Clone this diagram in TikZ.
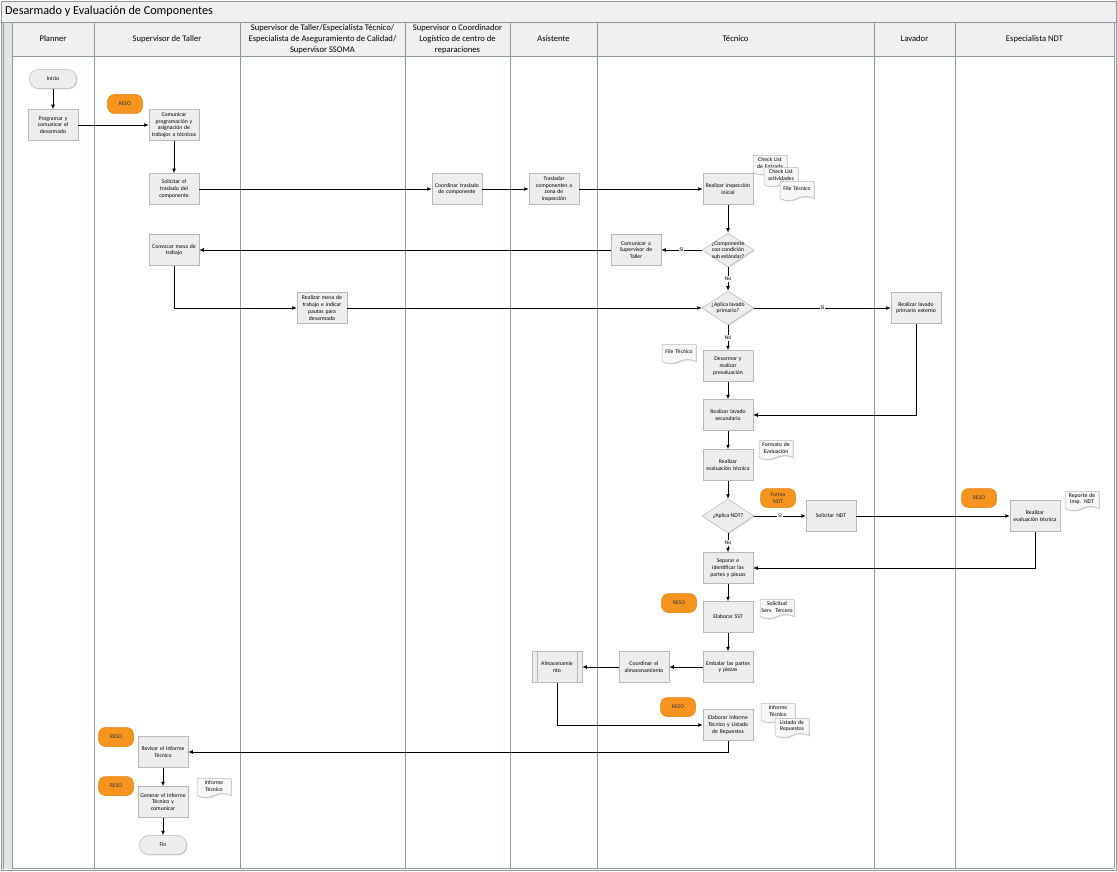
\documentclass[tikz,border=0pt]{standalone}
\usepackage{fontspec}
\setmainfont{Carlito}
\usetikzlibrary{arrows.meta,shapes.geometric,shapes.symbols,shadows}
\definecolor{lane}{HTML}{8E9A9E}
\definecolor{hdr}{HTML}{F0F0F0}
\definecolor{strip}{HTML}{E4E4E4}
\definecolor{boxfill}{HTML}{EDEDED}
\definecolor{boxline}{HTML}{B8B8B8}
\definecolor{reso}{HTML}{F7941D}
\definecolor{resoline}{HTML}{E3820F}
\definecolor{docfill}{HTML}{F7F7F7}
\newcommand\bxfont{\fontsize{5.7}{6.8}\selectfont}
\newcommand\hdfont{\fontsize{8.6}{10.8}\selectfont}
\begin{document}
\begin{tikzpicture}[x=1pt,y=-1pt,
  shad/.style={drop shadow={shadow xshift=0.9pt,shadow yshift=-0.9pt,opacity=0.35,fill=black!45}},
  box/.style={draw=boxline,fill=boxfill,line width=0.5pt,minimum width=50pt,minimum height=31pt,text width=49pt,align=center,inner sep=0.5pt,font=\bxfont,shad},
  subproc/.style={box,path picture={
     \draw[boxline,line width=0.5pt] ([xshift=5pt]path picture bounding box.north west) -- ([xshift=5pt]path picture bounding box.south west);
     \draw[boxline,line width=0.5pt] ([xshift=-5pt]path picture bounding box.north east) -- ([xshift=-5pt]path picture bounding box.south east);}},
  term/.style={draw=boxline,fill=boxfill,line width=0.5pt,rounded corners=9pt,minimum width=47pt,minimum height=19pt,font=\bxfont,shad},
  dec/.style={diamond,draw=boxline,fill=boxfill,line width=0.5pt,minimum width=52pt,minimum height=34pt,inner sep=0pt,shad},
  dectext/.style={font=\bxfont,align=center,inner sep=0pt},
  reso/.style={draw=resoline,fill=reso,line width=0.5pt,rounded corners=7pt,minimum width=35pt,minimum height=19pt,font=\bxfont,align=center,inner sep=1pt,text=black!80},
  doc/.style={tape,tape bend top=none,tape bend bottom=in and out,tape bend height=4pt,draw=boxline,fill=docfill,line width=0.5pt,minimum width=34pt,minimum height=19pt,text width=33pt,align=center,inner sep=0.5pt,font=\bxfont,shad},
  flow/.style={draw,line width=0.9pt,-{Latex[length=4.5pt,width=4pt]}},
  lbl/.style={fill=white,inner sep=1pt,font=\bxfont},
  hd/.style={font=\hdfont,align=center,inner sep=0pt},
  lanel/.style={draw=lane,line width=0.6pt}]
\useasboundingbox (0,0) rectangle (1117,872);
\fill[white] (0,0) rectangle (1117,872);
% frame
\fill[hdr] (1,1) rectangle (1116,22);
\fill[strip] (1,22) rectangle (12,869);
\fill[hdr] (12,22) rectangle (1114,56);
\draw[lane,line width=0.6pt] (1,1) rectangle (1116,870);
\draw[lanel] (1,22) -- (1116,22);
\draw[lanel] (12,56) -- (1114,56);
\draw[lanel] (12,868) -- (1114,868);
\draw[lanel] (3,22) -- (3,869);
\foreach \x in {12,94,240,405,510,597,874,955,1114} \draw[lanel] (\x,22) -- (\x,868);
\node[anchor=west,font=\fontsize{12.2}{14}\selectfont,inner sep=0pt] (title) at (5,11) {Desarmado y Evaluación de Componentes};
% headers
\node[hd] (h1) at (53,39) {Planner};
\node[hd] (h2) at (167,39) {Supervisor de Taller};
\node[hd] (h3) at (322.5,39) {Supervisor de Taller/Especialista Técnico/\\Especialista de Aseguramiento de Calidad/\\Supervisor SSOMA};
\node[hd] (h4) at (457.5,39) {Supervisor o Coordinador\\Logístico de centro de\\reparaciones};
\node[hd] (h5) at (553.5,39) {Asistente};
\node[hd] (h6) at (735.5,39) {Técnico};
\node[hd] (h7) at (914.5,39) {Lavador};
\node[hd] (h8) at (1034.5,39) {Especialista NDT};
% nodes
\node[term] (inicio) at (53,79) {Inicio};
\node[box] (prog) at (53,125) {Programar y\\comunicar el\\desarmado};
\node[reso] (r1) at (125,104) {RESO};
\node[box] (com) at (174,125) {Comunicar\\programación y\\asignación de\\trabajos a técnicos};
\node[box] (sol) at (174,189) {Solicitar el\\traslado del\\componente};
\node[box] (coord) at (457,189) {Coordinar traslado\\de componente};
\node[box] (trasl) at (554,189) {Trasladar\\componentes a\\zona de\\inspección};
\node[box] (insp) at (728,189) {Realizar inspección\\inicial};
\node[doc] (dc1) at (770,163) {Check List\\de Entrada};
\node[doc] (dc2) at (781,175) {Check List\\actividades};
\node[doc] (dc3) at (797,189) {File Técnico};
\node[dec,label={[dectext]center:¿Componente\\con condición\\sub estándar?}] (d1) at (728,250) {};
\node[box] (comsup) at (636,250) {Comunicar a\\Supervisor de\\Taller};
\node[box] (conv) at (174,250) {Convocar mesa de\\trabajo};
\node[dec,label={[dectext]center:¿Aplica lavado\\primario?}] (d2) at (728,308) {};
\node[box] (mesa) at (322,308) {Realizar mesa de\\trabajo e indicar\\pautas para\\desarmado};
\node[box] (lavp) at (916,308) {Realizar lavado\\primario externo};
\node[doc] (dc4) at (679,352) {File Técnico};
\node[box] (desar) at (728,366) {Desarmar y\\realizar\\prevaluación};
\node[box] (lavs) at (728,415) {Realizar lavado\\secundario};
\node[doc] (dc5) at (776,448) {Formato de\\Evaluación};
\node[box] (evalt) at (728,465) {Realizar\\evaluación técnica};
\node[dec,label={[dectext]center:¿Aplica NDT?}] (d3) at (728,516) {};
\node[reso] (fndt) at (778,498) {Forma\\NDT};
\node[box] (solndt) at (831,516) {Solicitar NDT};
\node[reso] (r2) at (979,498) {RESO};
\node[box] (evalndt) at (1035,516) {Realizar\\evaluación técnica};
\node[doc] (dc6) at (1082,499) {Reporte de\\Insp. NDT};
\node[box] (separ) at (728,568) {Separar e\\identificar las\\partes y piezas};
\node[reso] (r3) at (679,603) {RESO};
\node[box] (sst) at (728,617) {Elaborar SST};
\node[doc] (dc7) at (777,607) {Solicitud\\Serv. Tercero};
\node[box] (embal) at (728,667) {Embalar las partes\\y piezas};
\node[box] (coordalm) at (644,667) {Coordinar el\\almacenamiento};
\node[subproc] (alm) at (557,667) {Almacenamie\\nto};
\node[reso] (r4) at (678,707) {RESO};
\node[box] (inf) at (728,725) {Elaborar Informe\\Técnico y Listado\\de Repuestos};
\node[doc] (dc8) at (778,711) {Informe\\Técnico};
\node[doc] (dc9) at (792,726) {Listado de\\Repuestos};
\node[reso] (r5) at (116,737) {RESO};
\node[box] (rev) at (163,752) {Revisar el Informe\\Técnico};
\node[reso] (r6) at (116,786) {RESO};
\node[box] (gen) at (163,802) {Generar el Informe\\Técnico y\\comunicar};
\node[doc] (dc10) at (214,786) {Informe\\Técnico};
\node[term] (fin) at (163,845) {Fin};
% connectors
\draw[flow] (inicio) -- (prog);
\draw[flow] (prog) -- (com);
\draw[flow] (com) -- (sol);
\draw[flow] (sol) -- (coord);
\draw[flow] (coord) -- (trasl);
\draw[flow] (trasl) -- (insp);
\draw[flow] (insp) -- (d1);
\draw[flow] (d1) -- node[lbl] {Si} (comsup);
\draw[flow] (comsup) -- (conv);
\draw[flow] (d1) -- node[lbl] {No} (d2);
\draw[flow] (conv) |- (mesa);
\draw[flow] (mesa) -- (d2);
\draw[flow] (d2) -- node[lbl] {Si} (lavp);
\draw[flow] (d2) -- node[lbl] {No} (desar);
\draw[flow] (desar) -- (lavs);
\draw[flow] (lavp) |- (lavs);
\draw[flow] (lavs) -- (evalt);
\draw[flow] (evalt) -- (d3);
\draw[flow] (d3) -- node[lbl] {Si} (solndt);
\draw[flow] (solndt) -- (evalndt);
\draw[flow] (d3) -- node[lbl] {No} (separ);
\draw[flow] (evalndt) |- (separ);
\draw[flow] (separ) -- (sst);
\draw[flow] (sst) -- (embal);
\draw[flow] (embal) -- (coordalm);
\draw[flow] (coordalm) -- (alm);
\draw[flow] (alm) |- (inf);
\draw[flow] (inf) |- (rev);
\draw[flow] (rev) -- (gen);
\draw[flow] (gen) -- (fin);
\end{tikzpicture}
\end{document}
